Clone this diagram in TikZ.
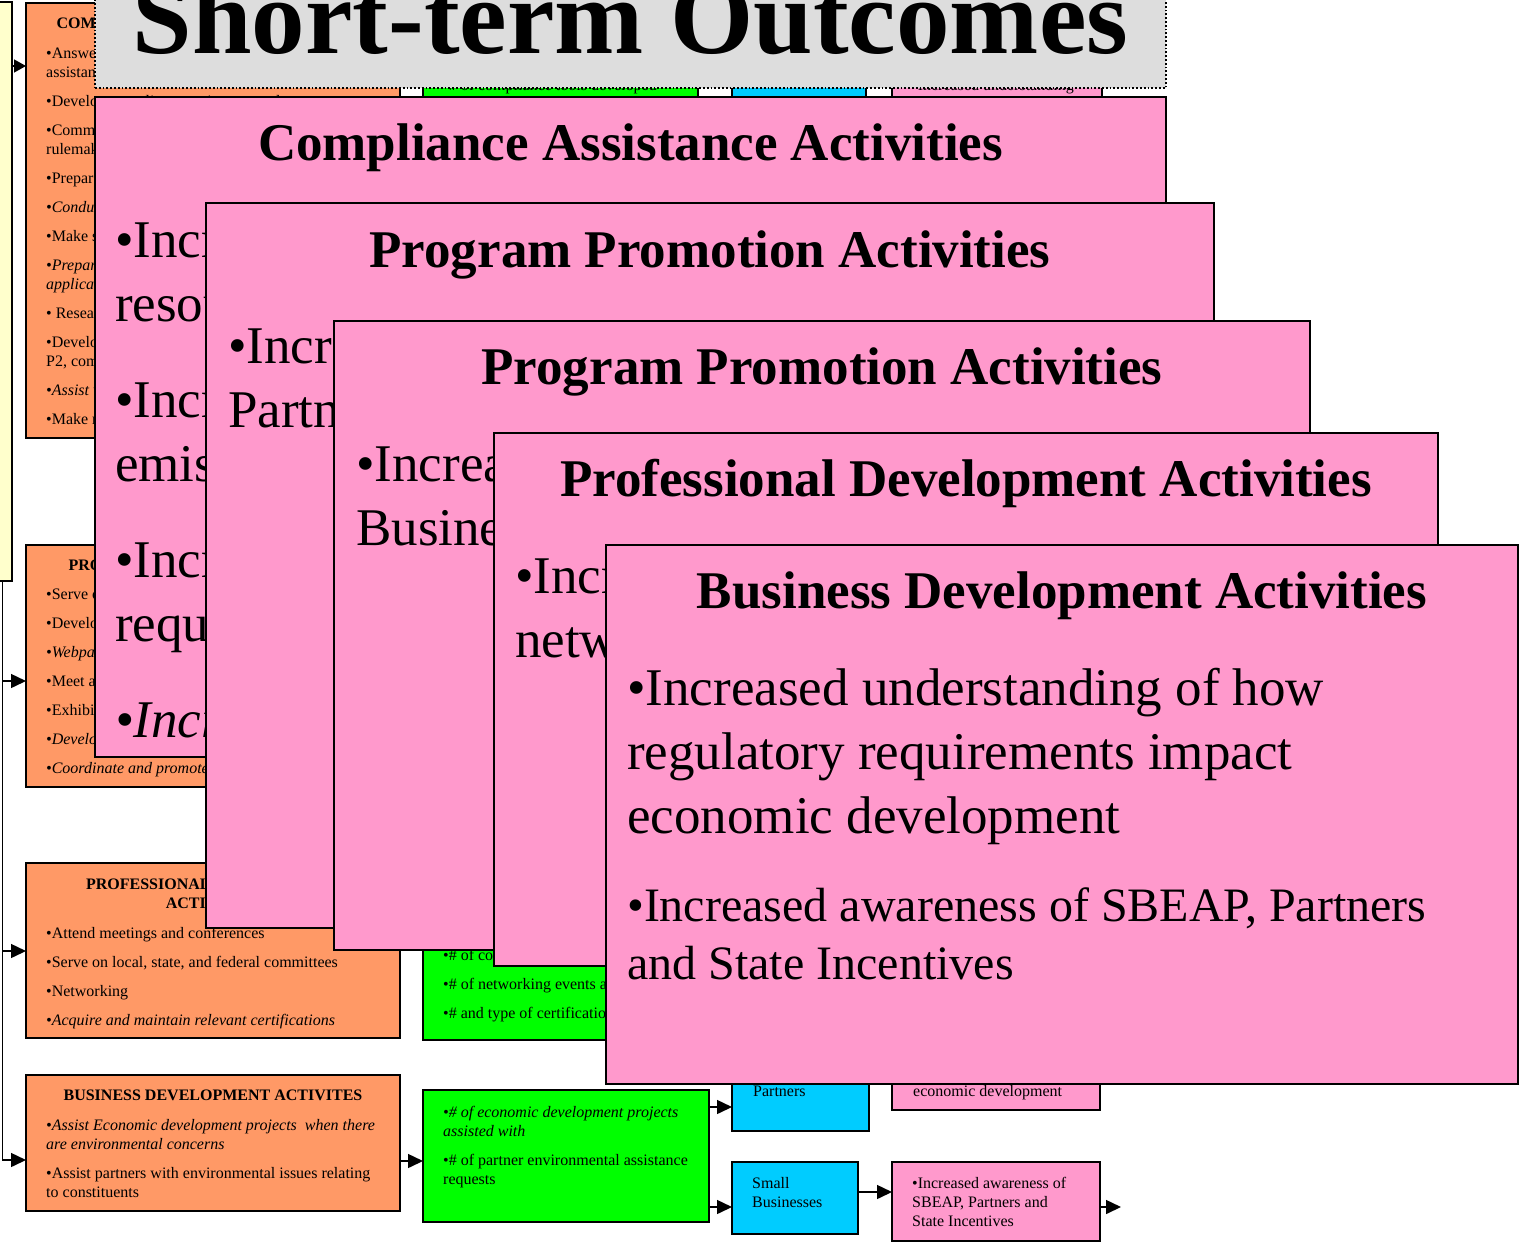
\documentclass[tikz,border=0pt]{standalone}
\usepackage{fontspec}
\setmainfont{Liberation Serif}
\usetikzlibrary{arrows.meta}
\usetikzlibrary{calc}

\definecolor{actorange}{HTML}{FF9966}
\definecolor{cntgreen}{HTML}{00FF00}
\definecolor{whoblue}{HTML}{00CCFF}
\definecolor{outpink}{HTML}{FF99CC}
\definecolor{inyellow}{HTML}{FFFFCC}
\definecolor{headgray}{HTML}{DDDDDD}

% lines hang from the first baseline
\newcommand{\leftlines}[1]{\begin{tabular}[t]{@{}l@{}}#1\end{tabular}}
\newcommand{\midlines}[1]{\begin{tabular}[t]{@{}c@{}}#1\end{tabular}}

\begin{document}
\begin{tikzpicture}[x=1pt,y=-1pt,
    plain box/.style={rectangle,draw,line width=1.8pt,anchor=north west,
        inner sep=0pt,outer sep=0pt},
    wh/.style 2 args={minimum width=#1pt,minimum height=#2pt},
    act box/.style={plain box,fill=actorange},
    cnt box/.style={plain box,fill=cntgreen},
    who box/.style={plain box,fill=whoblue},
    out box/.style={plain box,fill=outpink},
    win box/.style={plain box,line width=2pt,fill=outpink},
    head box/.style={plain box,fill=headgray,dotted,line width=1.5pt},
    small text/.style={anchor=base west,inner sep=0pt,
        font=\fontsize{16}{19.2}\selectfont},
    small head/.style={anchor=base,inner sep=0pt,
        font=\fontsize{16}{19.2}\selectfont\bfseries},
    win title/.style={anchor=base,inner sep=0pt,
        font=\fontsize{53}{64}\selectfont\bfseries},
    win text/.style={anchor=base west,inner sep=0pt,
        font=\fontsize{53}{64}\selectfont},
    arr/.style={line width=1.5pt,-{Triangle[length=15pt,width=14pt]}},
    arr short/.style={line width=1.5pt,-{Triangle[length=12pt,width=13pt]}}]

\useasboundingbox (0,0) rectangle (1523,1242);
\clip (0,0) rectangle (1523,1242);

% logic model underneath
\node[plain box,fill=inyellow,wh={19}{579}] (Y) at (-7,2) {};

\node[act box,wh={374}{435}] (O1) at (26,3) {};
\node[act box,wh={374}{242}] (O2) at (26,545) {};
\node[act box,wh={374}{175}] (O3) at (26,863) {};
\node[act box,wh={374}{136}] (O4) at (26,1075) {};

\node[cnt box,wh={275}{300}] (G1) at (423,-20) {};
\node[cnt box,wh={277}{160}] (G3) at (423,880) {};
\node[cnt box,wh={286}{132}] (G4) at (423,1090) {};

\node[who box,wh={134}{300}] (B1) at (732,-20) {};
\node[who box,wh={137}{131}] (B4a) at (732,1000) {};
\node[who box,wh={126}{72}] (B4b) at (732,1162) {};

\node[out box,wh={210}{300}] (P1) at (892,-20) {};
\node[out box,wh={208}{110}] (P4a) at (892,1000) {};
\node[out box,wh={208}{79}] (P4b) at (892,1162) {};

\node[small head] (O1h) at ($(O1.north)+(0,25)$) {COMPLIANCE ASSISTANCE ACTIVITIES};
\node[small text] (O1t) at ($(O1.north west)+(20,55)$) {\leftlines{%
  •Answer questions and provide compliance\\
  assistance\\[9.8pt]
  •Develop compliance assistance tools\\[9.8pt]
  •Comment on proposed regulations and\\
  rulemaking\\[9.8pt]
  •Prepare fact sheets and newsletters\\[9.8pt]
  \textit{•Conduct workshops and seminars}\\[9.8pt]
  •Make site visits\\[9.8pt]
  \textit{•Prepare and review permit}\\
  \textit{applications}\\[9.8pt]
  • Research regulatory issues\\[9.8pt]
  •Develop and distribute information on\\
  P2, compliance and permitting\\[9.8pt]
  \textit{•Assist with permit applications}\\[9.8pt]
  •Make referrals to partners}};

\node[small head] (O2h) at ($(O2.north)+(0,25)$) {PROGRAM PROMOTION ACTIVITIES};
\node[small text] (O2t) at ($(O2.north west)+(20,54)$) {\leftlines{%
  •Serve on advisory committees\\[9.8pt]
  •Develop outreach materials\\[9.8pt]
  \textit{•Webpage development and maintenance}\\[9.8pt]
  •Meet and present to trade associations\\[9.8pt]
  •Exhibit at trade shows and conferences\\[9.8pt]
  \textit{•Develop newsletters}\\[9.8pt]
  \textit{•Coordinate and promote workshops}}};

\node[small head] (O3h) at ($(O3.north)+(0,26)$) {\midlines{PROFESSIONAL DEVELOPMENT\\ACTIVITIES}};
\node[small text] (O3t) at ($(O3.north west)+(20,75)$) {\leftlines{%
  •Attend meetings and conferences\\[9.8pt]
  •Serve on local, state, and federal committees\\[9.8pt]
  •Networking\\[9.8pt]
  \textit{•Acquire and maintain relevant certifications}}};

\node[small head] (O4h) at ($(O4.north)+(0,25)$) {BUSINESS DEVELOPMENT ACTIVITES};
\node[small text] (O4t) at ($(O4.north west)+(20,55)$) {\leftlines{%
  \textit{•Assist Economic development projects\ \ when there}\\
  \textit{are environmental concerns}\\[9.8pt]
  •Assist partners with environmental issues relating\\
  to constituents}};

\node[small text] (G1t) at (443,90) {•\# of compliance tools developed};
\node[small text] (G3t) at ($(G3.north west)+(20,80)$) {\leftlines{%
  •\# of contacts made\\[9.8pt]
  •\# of networking events attended\\[9.8pt]
  •\# and type of certifications}};
\node[small text] (G4t) at ($(G4.north west)+(20,27)$) {\leftlines{%
  \textit{•\# of economic development projects}\\
  \textit{assisted with}\\[9.8pt]
  •\# of partner environmental assistance\\
  requests}};

\node[small text] (B4at) at ($(B4a.south west)+(21,-35)$) {Partners};
\node[small text] (B4bt) at ($(B4b.north west)+(20,26)$) {\leftlines{Small\\Businesses}};
\node[small text] (P1t) at (912,90) {•Increased understanding};
\node[small text] (P4at) at ($(P4a.south west)+(21,-14)$) {economic development};
\node[small text] (P4bt) at ($(P4b.north west)+(20,26)$) {\leftlines{%
  •Increased awareness of\\SBEAP, Partners and\\State Incentives}};

% connectors
\coordinate (a1) at (0,66);
\coordinate (a2) at (0,681);
\coordinate (a3) at (0,951);
\coordinate (a4) at (0,1160);
\coordinate (b4) at (0,1161);
\coordinate (c1) at (0,1107);
\coordinate (c2) at (0,1207);
\coordinate (c3) at (0,1192);
\coordinate (end) at (1121,1207);

\draw[arr short] (Y.east |- a1) -- (O1.west |- a1);
\draw[arr] (Y.south) |- (O4.west |- a4);
\draw[arr] (Y.south |- a2) -- (O2.west |- a2);
\draw[arr] (Y.south |- a3) -- (O3.west |- a3);
\draw[arr] (O4.east |- b4) -- (G4.west |- b4);
\draw[arr] (G4.east |- c1) -- (B4a.west |- c1);
\draw[arr] (G4.east |- c2) -- (B4b.west |- c2);
\draw[arr] (B4b.east |- c3) -- (P4b.west |- c3);
\draw[arr] (P4b.east |- end) -- (end);

% slide title
\node[head box,wh={1071}{140}] (T) at (95,-52) {};
\node[anchor=base,inner sep=0pt,font=\fontsize{107}{107}\selectfont\bfseries]
  (Tt) at ($(T.south)+(0,-35)$) {Short-term Outcomes};

% stacked outcome windows
\node[win box,wh={1071}{660}] (W1) at (95,97) {};
\node[win title] (W1h) at ($(W1.north)+(0,63)$) {Compliance Assistance Activities};
\node[win text] (W1t) at ($(W1.north west)+(20,160)$) {\leftlines{%
  •Increased use of compliance\\
  resources\\[32pt]
  •Increased reductions in\\
  emissions\\[32pt]
  •Increased understanding of\\
  requirements\\[32pt]
  \textit{•Increased participation}}};

\node[win box,wh={1008}{725}] (W2) at (206,203) {};
\node[win title] (W2h) at ($(W2.north)+(0,64)$) {Program Promotion Activities};
\node[win text] (W2t) at ($(W2.north west)+(22,160)$) {\leftlines{%
  •Increased awareness of SBEAP by\\
  Partners}};

\node[win box,wh={976}{629}] (W3) at (334,321) {};
\node[win title] (W3h) at ($(W3.north)+(0,63)$) {Program Promotion Activities};
\node[win text] (W3t) at ($(W3.north west)+(22,160)$) {\leftlines{%
  •Increased awareness of SBEAP by\\
  Businesses}};

\node[win box,wh={944}{533}] (W4) at (494,433) {};
\node[win title] (W4h) at ($(W4.north)+(0,63)$) {Professional Development Activities};
\node[win text] (W4t) at ($(W4.north west)+(21,160)$) {\leftlines{%
  •Increased professional\\
  networking}};

\node[win box,wh={912}{539}] (W5) at (606,545) {};
\node[win title] (W5h) at ($(W5.north)+(0,63)$) {Business Development Activities};
\node[win text] (W5t) at ($(W5.north west)+(21,160)$) {\leftlines{%
  •Increased understanding of how\\
  regulatory requirements impact\\
  economic development}};
\node[win text,font=\fontsize{48}{58}\selectfont] (W5u)
  at ($(W5.north west)+(21,376)$) {\leftlines{%
  •Increased awareness of SBEAP, Partners\\
  and State Incentives}};

\end{tikzpicture}
\end{document}
